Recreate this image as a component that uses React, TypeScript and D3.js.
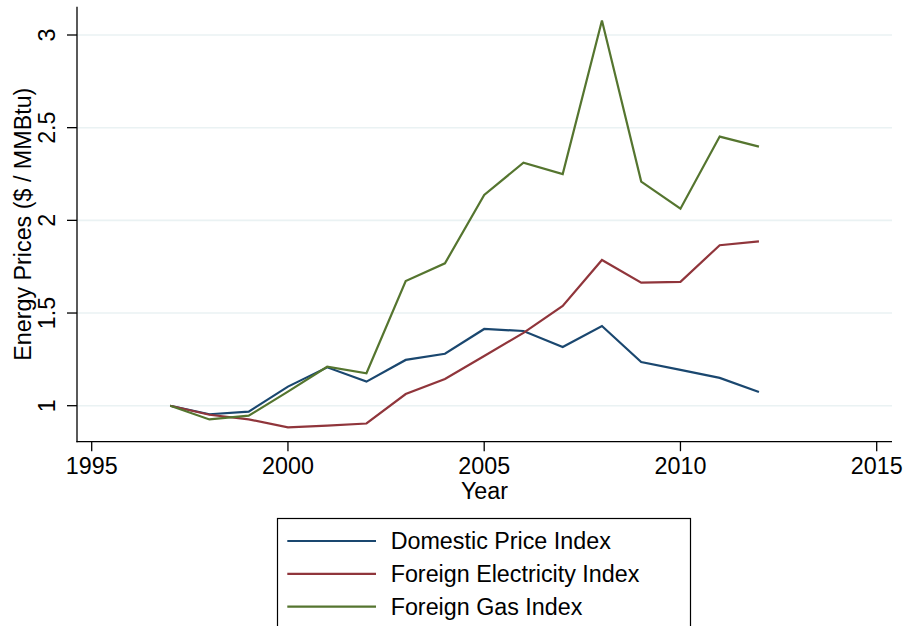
import React from "react";
import * as d3 from "d3";

const years = [1997, 1998, 1999, 2000, 2001, 2002, 2003, 2004, 2005, 2006, 2007, 2008, 2009, 2010, 2011, 2012];
const domestic = [1.0, 0.954, 0.968, 1.103, 1.207, 1.13, 1.247, 1.28, 1.414, 1.403, 1.317, 1.43, 1.236, 1.193, 1.15, 1.074];
const electricity = [1.0, 0.951, 0.926, 0.883, 0.892, 0.904, 1.063, 1.144, 1.268, 1.393, 1.538, 1.786, 1.664, 1.668, 1.866, 1.887];
const gas = [1.0, 0.926, 0.946, 1.076, 1.21, 1.175, 1.673, 1.768, 2.137, 2.311, 2.25, 3.078, 2.209, 2.063, 2.452, 2.398];

const xTicks = [1995, 2000, 2005, 2010, 2015];
const yTicks = [1, 1.5, 2, 2.5, 3];

const seriesNames = ["Domestic Price Index", "Foreign Electricity Index", "Foreign Gas Index"];
const seriesColors = ["#1a476f", "#90353b", "#55752f"];

const W = 906;
const H = 626;
const L = 77, R = 892, T = 6.7, B = 441.7;
const FONT = "'Liberation Sans', Arial, Helvetica, sans-serif";
const FS = 23.3;

export default function App() {
  const x = d3.scaleLinear().domain([1995, 2015]).range([91.7, 876.7]);
  const y = d3.scaleLinear().domain([1, 3]).range([405.7, 35]);
  const series = [domestic, electricity, gas];
  const line = d3
    .line<[number, number]>()
    .x((d) => x(d[0]))
    .y((d) => y(d[1]));

  return (
    <svg
      width={W}
      height={H}
      style={{ position: "absolute", left: 0, top: 0, display: "block", background: "#fff" }}
      fontFamily={FONT}
    >
      <rect x={0} y={0} width={W} height={H} fill="#fff" />
      {yTicks.map((t) => (
        <line key={"g" + t} x1={L} x2={R} y1={y(t)} y2={y(t)} stroke="#eaf2f3" strokeWidth={1.6} />
      ))}
      {series.map((s, i) => (
        <path
          key={i}
          d={line(years.map((yr, j) => [yr, s[j]] as [number, number])) || ""}
          fill="none"
          stroke={seriesColors[i]}
          strokeWidth={2.2}
          strokeLinejoin="miter"
        />
      ))}
      {/* axes */}
      <line x1={L} x2={L} y1={T} y2={B + 0.6} stroke="#000" strokeWidth={1.3} />
      <line x1={L - 0.6} x2={R} y1={B} y2={B} stroke="#000" strokeWidth={1.3} />
      {yTicks.map((t) => (
        <g key={"yt" + t}>
          <line x1={L - 10} x2={L} y1={y(t)} y2={y(t)} stroke="#000" strokeWidth={1.3} />
          <text
            transform={`translate(55,${y(t)}) rotate(-90)`}
            textAnchor="middle"
            fontSize={FS}
            fill="#000"
          >
            {String(t)}
          </text>
        </g>
      ))}
      {xTicks.map((t) => (
        <g key={"xt" + t}>
          <line x1={x(t)} x2={x(t)} y1={B} y2={B + 9.5} stroke="#000" strokeWidth={1.3} />
          <text x={x(t)} y={473.5} textAnchor="middle" fontSize={FS} fill="#000">
            {String(t)}
          </text>
        </g>
      ))}
      <text x={(L + R) / 2} y={499} textAnchor="middle" fontSize={FS} fill="#000">
        Year
      </text>
      <text
        transform={`translate(30.7,${(T + B) / 2}) rotate(-90)`}
        textAnchor="middle"
        fontSize={FS}
        fill="#000"
      >
        Energy Prices ($ / MMBtu)
      </text>
      {/* legend */}
      <rect x={277.5} y={518.5} width={413} height={140} fill="#fff" stroke="#000" strokeWidth={1.2} />
      {seriesNames.map((n, i) => {
        const ly = 541 + i * 32.8;
        return (
          <g key={n}>
            <line x1={287.3} x2={376} y1={ly} y2={ly} stroke={seriesColors[i]} strokeWidth={2.2} />
            <text x={390.7} y={ly + 8.2} fontSize={FS} fill="#000">
              {n}
            </text>
          </g>
        );
      })}
    </svg>
  );
}
